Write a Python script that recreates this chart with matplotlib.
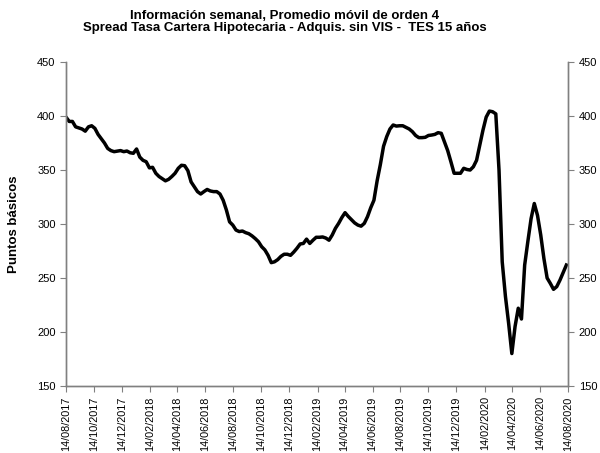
import pandas as pd
import matplotlib
matplotlib.use("Agg")
import matplotlib.pyplot as plt
import matplotlib.dates as mdates

plt.rcParams['font.family'] = ['Liberation Sans', 'DejaVu Sans']

# serie semanal (puntos básicos)
start_date = '2017-08-14'
spread = [399, 395, 395, 390, 389, 388, 386, 390, 391, 388.6,
          383, 379, 375, 370, 368, 367, 367.5, 368, 367, 367.6,
          366, 365.5, 369.5, 362, 359, 357.7, 352, 352.5, 347, 344,
          342, 340, 341.4, 344, 347, 351.6, 354.4, 354, 349.4, 339,
          334.5, 330, 327.8, 330, 332, 330.6, 330, 330, 327.8, 322,
          313, 302, 299, 294.4, 293, 293.5, 292, 291, 289, 286.5,
          283.6, 279, 276, 271, 264.2, 265, 267, 270, 272, 272,
          271, 274, 277.5, 281.5, 282, 286, 282, 285, 287.7, 287.7,
          288, 287, 285, 289.8, 296, 300.6, 306, 310.5, 307, 304,
          301, 299, 298, 300.6, 306.8, 315, 322, 340, 355, 372,
          381, 388, 391.7, 390.7, 391, 391, 389.5, 388, 385.5, 382,
          380, 380, 380.3, 382, 382.4, 383, 384.6, 384, 376, 368,
          357.7, 347, 347, 347, 351.6, 350.5, 350, 353, 359, 373,
          387, 399, 404.6, 404, 402, 350, 265, 233, 208, 180,
          205, 222, 212, 262, 284, 305, 319, 308, 290, 268,
          250, 245, 239.5, 242, 248, 255, 262]

y_ticks = [150, 200, 250, 300, 350, 400, 450]
x_ticks = pd.date_range('2017-08-01', '2020-08-14', freq='2MS') + pd.Timedelta(days=13)

dates = pd.date_range(start_date, periods=len(spread), freq='7D')

fig = plt.figure(figsize=(6, 4.53), dpi=100)
ax = fig.add_axes([0.11, 0.148, 0.837, 0.715])

ax.plot(dates, spread, color='black', linewidth=2.5)

ax.set_xlim(pd.Timestamp('2017-08-14'), pd.Timestamp('2020-08-14'))
ax.set_ylim(150, 450)
ax.set_yticks(y_ticks)
ax.set_xticks(x_ticks)
ax.xaxis.set_major_formatter(mdates.DateFormatter('%d/%m/%Y'))
ax.tick_params(axis='x', rotation=90, labelsize=7.8, length=4, color='#808080')
ax.tick_params(axis='y', labelsize=8, length=4, color='#808080')

ax2 = ax.twinx()
ax2.set_ylim(150, 450)
ax2.set_yticks(y_ticks)
ax2.tick_params(axis='y', labelsize=8, length=4, color='#808080')

for a in (ax, ax2):
    a.spines['top'].set_visible(False)
    for s in ('left', 'right', 'bottom'):
        a.spines[s].set_color('#808080')
        a.spines[s].set_linewidth(1)

ax.set_ylabel('Puntos básicos', fontsize=9.5, fontweight='bold')
ax.yaxis.set_label_coords(-0.092, 0.5)

fig.text(0.475, 0.978, 'Información semanal, Promedio móvil de orden 4\n'
         'Spread Tasa Cartera Hipotecaria - Adquis. sin VIS -  TES 15 años',
         ha='center', va='top', fontsize=9.5, fontweight='bold', linespacing=1.05)

fig.savefig('out.png', dpi=100, facecolor='white')
